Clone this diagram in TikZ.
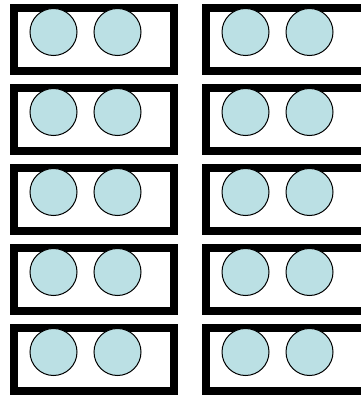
\documentclass[tikz,border=0pt]{standalone}
\usepackage{tikz}
\definecolor{cellBlue}{RGB}{187,224,228}
\tikzset{
  trayBox/.style={draw=black, line width=8pt, rectangle, minimum width=160pt, minimum height=63pt, inner sep=0pt, outer sep=0pt},
  ballCell/.style={draw=black, line width=1pt, fill=cellBlue, circle, minimum size=47pt, inner sep=0pt}
}

\begin{document}
\begin{tikzpicture}[x=1pt,y=-1pt]
\useasboundingbox (0,0) rectangle (361,396);
\clip (0,0) rectangle (361,396);
\node[trayBox] (trayA1) at (94,39.5) {};
\node[trayBox] (trayB1) at (286,39.5) {};
\node[trayBox] (trayA2) at (94,119.5) {};
\node[trayBox] (trayB2) at (286,119.5) {};
\node[trayBox] (trayA3) at (94,199.5) {};
\node[trayBox] (trayB3) at (286,199.5) {};
\node[trayBox] (trayA4) at (94,279.5) {};
\node[trayBox] (trayB4) at (286,279.5) {};
\node[trayBox] (trayA5) at (94,359.5) {};
\node[trayBox] (trayB5) at (286,359.5) {};
\node[ballCell] (ballA1l) at (53.5,32) {};
\node[ballCell] (ballA1r) at (117.5,32) {};
\node[ballCell] (ballB1l) at (245.5,32) {};
\node[ballCell] (ballB1r) at (309.5,32) {};
\node[ballCell] (ballA2l) at (53.5,112) {};
\node[ballCell] (ballA2r) at (117.5,112) {};
\node[ballCell] (ballB2l) at (245.5,112) {};
\node[ballCell] (ballB2r) at (309.5,112) {};
\node[ballCell] (ballA3l) at (53.5,192) {};
\node[ballCell] (ballA3r) at (117.5,192) {};
\node[ballCell] (ballB3l) at (245.5,192) {};
\node[ballCell] (ballB3r) at (309.5,192) {};
\node[ballCell] (ballA4l) at (53.5,272) {};
\node[ballCell] (ballA4r) at (117.5,272) {};
\node[ballCell] (ballB4l) at (245.5,272) {};
\node[ballCell] (ballB4r) at (309.5,272) {};
\node[ballCell] (ballA5l) at (53.5,352) {};
\node[ballCell] (ballA5r) at (117.5,352) {};
\node[ballCell] (ballB5l) at (245.5,352) {};
\node[ballCell] (ballB5r) at (309.5,352) {};
\end{tikzpicture}
\end{document}
